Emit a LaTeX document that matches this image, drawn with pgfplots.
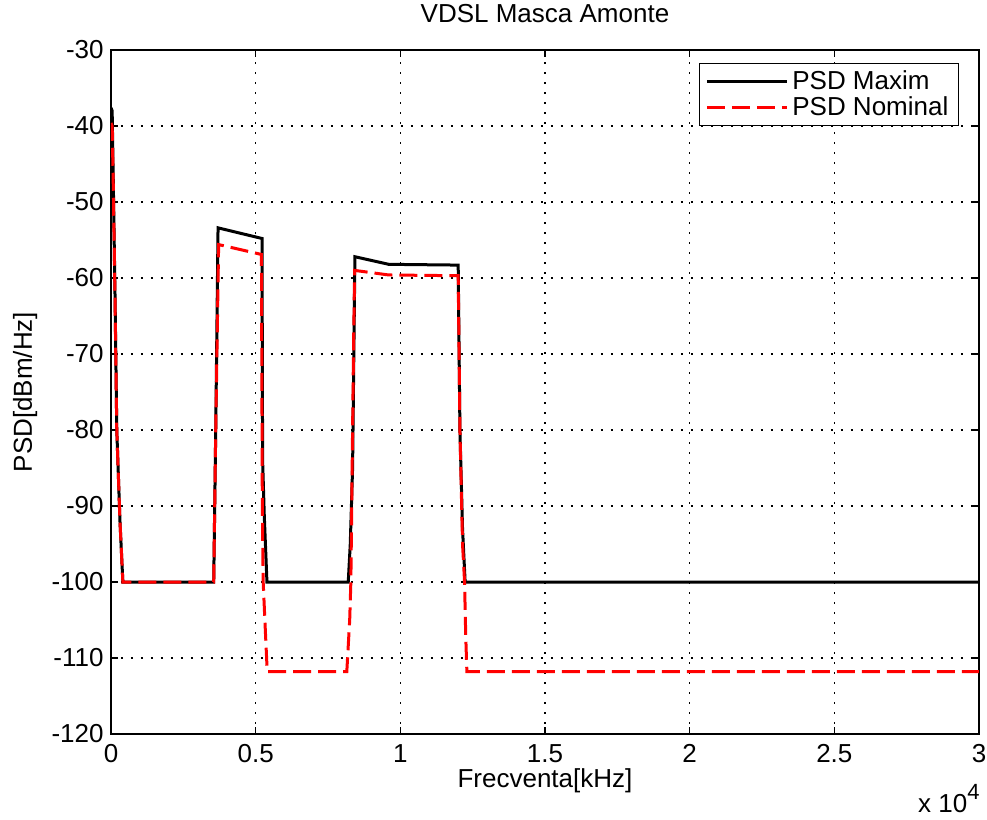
\documentclass[border=0pt]{standalone}
\usepackage{pgfplots}
\pgfplotsset{compat=1.18}
\usepackage{fontspec}
\setmainfont{Liberation Sans}
\newcommand{\fs}{\fontsize{13}{15.6}\selectfont}
\begin{document}
\begin{tikzpicture}
\useasboundingbox (-55.5pt,-43pt) rectangle (438pt,367pt);
\begin{axis}[
  name=ax,
  at={(0,0)}, anchor=south west,
  scale only axis, width=434pt, height=342pt,
  xmin=0, xmax=30000, ymin=-120, ymax=-30,
  xtick={0,5000,...,30000}, xticklabels={0,0.5,1,1.5,2,2.5,3},
  ytick={-120,-110,...,-30},
  yticklabels={-120,-110,-100,-90,-80,-70,-60,-50,-40,-30},
  scaled x ticks=false,
  tick align=inside, tick pos=both, major tick length=3.5pt,
  grid=major,
  major grid style={black, line width=0.8pt, dash pattern=on 0.8pt off 4.2pt},
  axis line style={line width=0.8pt},
  every tick/.style={black, line width=0.8pt},
  tick label style={font=\fs},
  xticklabel style={anchor=base, yshift=-14.5pt},
  yticklabel style={anchor=east, inner xsep=0pt, xshift=-3.5pt},
  title={VDSL Masca Amonte},
  title style={font=\fs, at={(0.5,1)}, anchor=base, yshift=8pt},
  xlabel={Frecventa[kHz]},
  xlabel style={font=\fs, at={(axis description cs:0.5,-0.068)}, anchor=center},
  ylabel={PSD[dBm/Hz]},
  ylabel style={font=\fs, at={(axis description cs:-0.099,0.5)}, anchor=center},
  legend style={font=\fs, at={(1,1)}, anchor=north east, xshift=-10pt, yshift=-6.5pt,
    draw=black, line width=0.6pt, fill=white, row sep=0pt, inner xsep=3pt, inner ysep=2.5pt,
    nodes={inner ysep=1pt}},
  legend cell align=left,
  legend image code/.code={\draw[#1] (0pt,0pt) -- (40pt,0pt);},
]
\addplot[black, line width=1.5pt] coordinates {
(0,-37.6) (40,-38) (80,-47.5) (140,-62.5) (200,-80) (310,-92) (410,-100)
(3550,-100) (3620,-80) (3700,-53.4) (5220,-54.8) (5240,-84) (5300,-91.5) (5390,-100)
(8200,-100) (8270,-95) (8350,-85) (8430,-57.2) (9600,-58.2) (12000,-58.3)
(12060,-80) (12150,-93) (12240,-100) (30000,-100)
};
\addlegendentry{PSD Maxim}
\addplot[red, line width=1.5pt, dash pattern=on 9pt off 3.5pt] coordinates {
(0,-39.6) (40,-40) (80,-48) (140,-63) (200,-80) (310,-92) (410,-100)
(3550,-100) (3620,-80) (3720,-55.6) (5200,-56.9) (5230,-90) (5260,-100) (5330,-106) (5400,-111.8)
(8150,-111.8) (8250,-105) (8290,-100) (8380,-70) (8420,-59) (9600,-59.6) (12000,-59.7)
(12060,-80) (12150,-95) (12220,-100) (12260,-107) (12300,-111.8) (30000,-111.8)
};
\addlegendentry{PSD Nominal}
\end{axis}
\node[font=\fs, anchor=base east, inner sep=0pt] at ([yshift=-39.5pt, xshift=0.5pt]ax.south east)
  {x 10\raisebox{6.5pt}{\fontsize{11}{11}\selectfont 4}};
\end{tikzpicture}
\end{document}
